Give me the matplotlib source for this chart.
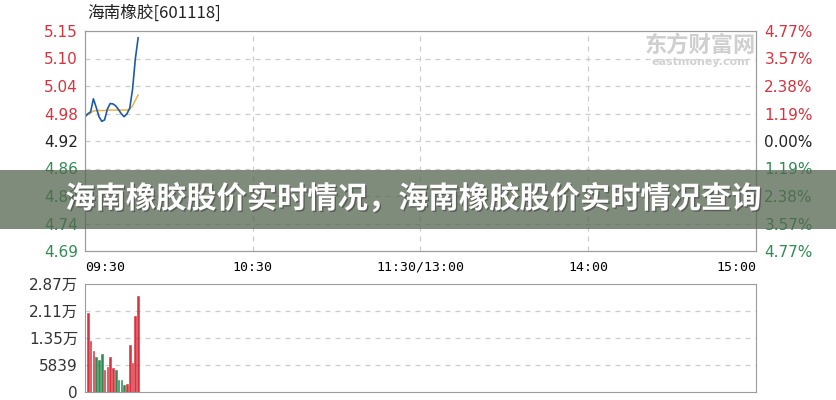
import matplotlib
matplotlib.use("Agg")
import matplotlib.pyplot as plt
import matplotlib.patheffects as pe
from matplotlib.patches import Rectangle
import numpy as np

# ---- data ----
title = "海南橡胶[601118]"
banner = "海南橡胶股价实时情况，海南橡胶股价实时情况查询"
prev_close = 4.92

minutes = list(range(20))
price = [4.972, 4.978, 4.982, 5.010, 4.992, 4.972, 4.962, 4.965, 4.988, 5.000,
         4.999, 4.995, 4.987, 4.978, 4.972, 4.978, 4.990, 5.030, 5.095, 5.140]
avg_price = [4.972, 4.976, 4.980, 4.984, 4.985, 4.985, 4.985, 4.985, 4.986, 4.986,
             4.986, 4.986, 4.986, 4.986, 4.986, 4.986, 4.988, 4.995, 5.007, 5.018]

vol_minutes = list(range(1, 20))
volume = [20900, 13600, 11000, 9200, 8600, 10100, 5900, 6600, 9400, 6300,
          5800, 3200, 3200, 1950, 2100, 12500, 7700, 20100, 25600]
vol_up = [1, 1, 1, 0, 0, 0, 1, 1, 1, 1, 0, 0, 0, 0, 1, 1, 1, 1, 1]

price_labels = ["4.69", "4.74", "4.80", "4.86", "4.92", "4.98", "5.04", "5.10", "5.15"]
pct_labels = ["4.77%", "3.57%", "2.38%", "1.19%", "0.00%", "1.19%", "2.38%", "3.57%", "4.77%"]
time_ticks = [0, 60, 120, 180, 240]
time_labels = ["09:30", "10:30", "11:30/13:00", "14:00", "15:00"]
vol_max = 28700
vol_labels = ["0", "5839", "1.35万", "2.11万", "2.87万"]

RED = "#d8323e"
GREEN = "#2f8b52"
GRID = "#cccccc"
FRAME = "#9c9c9c"
CJK = ["DejaVu Sans", "Noto Sans CJK SC"]

fig = plt.figure(figsize=(8.37, 4.0), dpi=100)
ax = fig.add_axes([85 / 837, 1 - 251 / 400, 671 / 837, 220 / 400])
axv = fig.add_axes([85 / 837, 1 - 392 / 400, 671 / 837, 108 / 400])

# ---- price panel ----
span = 0.2347
ax.set_xlim(0, 240)
ax.set_ylim(prev_close - span, prev_close + span)
levels = np.linspace(prev_close - span, prev_close + span, 9)
ax.set_yticks(levels, price_labels)
for i, lab in enumerate(ax.get_yticklabels()):
    lab.set_color(GREEN if i < 4 else ("#222222" if i == 4 else RED))
for y in levels[1:-1]:
    ax.axhline(y, color=GRID, lw=0.9, ls=(0, (4, 4)), zorder=0)
for x in time_ticks[1:-1]:
    ax.axvline(x, color=GRID, lw=0.9, ls=(0, (4, 4)), zorder=0)

ax.plot(minutes, avg_price, color="#e9b443", lw=1.1)
ax.plot(minutes, price, color="#1f5aa6", lw=1.2)

ax2 = ax.twinx()
ax2.set_ylim(ax.get_ylim())
ax2.set_yticks(levels, pct_labels)
for i, lab in enumerate(ax2.get_yticklabels()):
    lab.set_color(GREEN if i < 4 else ("#222222" if i == 4 else RED))

ax.set_xticks(time_ticks, time_labels, family="DejaVu Sans Mono", fontsize=9.5)
xl = ax.get_xticklabels()
xl[0].set_horizontalalignment("left")
xl[-1].set_horizontalalignment("right")

for a in (ax, ax2):
    a.tick_params(length=0, labelsize=11)
    for s in a.spines.values():
        s.set_color(FRAME)
ax.tick_params(axis="y", pad=5)
ax2.tick_params(axis="y", pad=6)
ax.tick_params(axis="x", pad=7, labelsize=9.5)

# ---- volume panel ----
colors = [RED if u else GREEN for u in vol_up]
axv.bar(vol_minutes, volume, width=0.6, color=colors, edgecolor=colors, lw=0.4)
axv.set_xlim(0, 240)
axv.set_ylim(0, vol_max)
vticks = np.linspace(0, vol_max, 5)
axv.set_yticks(vticks, vol_labels, family=CJK)
for y in vticks[1:-1]:
    axv.axhline(y, color=GRID, lw=0.9, ls=(0, (4, 4)), zorder=0)
axv.set_xticks([])
axv.tick_params(length=0, labelsize=11, labelcolor="#333333", pad=5)
for s in axv.spines.values():
    s.set_color(FRAME)

# ---- title and watermark ----
fig.text(87 / 837, 1 - 13 / 400, title, family=["Noto Sans CJK SC", "DejaVu Sans"],
         fontsize=12, va="center", ha="left", color="#222222")
fig.text(700 / 837, 1 - 45 / 400, "东方财富网", family=["Noto Sans CJK SC"],
         fontsize=16, weight="bold", color="#cfcfcf", ha="center", va="center")
fig.text(700 / 837, 1 - 62 / 400, "eastmoney.com", fontsize=8, weight="bold",
         color="#d2d2d2", ha="center", va="center")

# ---- banner over the chart ----
fig.patches.append(Rectangle((0, 1 - 229 / 400), 1, 59 / 400, transform=fig.transFigure,
                             facecolor="#55664f", alpha=0.75, zorder=5))
fig.text(413 / 837, 1 - 199 / 400, banner, family=["Noto Sans CJK SC"], fontsize=21.8,
         weight="bold", color="white", ha="center", va="center", zorder=6,
         path_effects=[pe.withSimplePatchShadow(offset=(1, -1), shadow_rgbFace="#333333", alpha=0.5)])

fig.savefig("out.png", dpi=100)
